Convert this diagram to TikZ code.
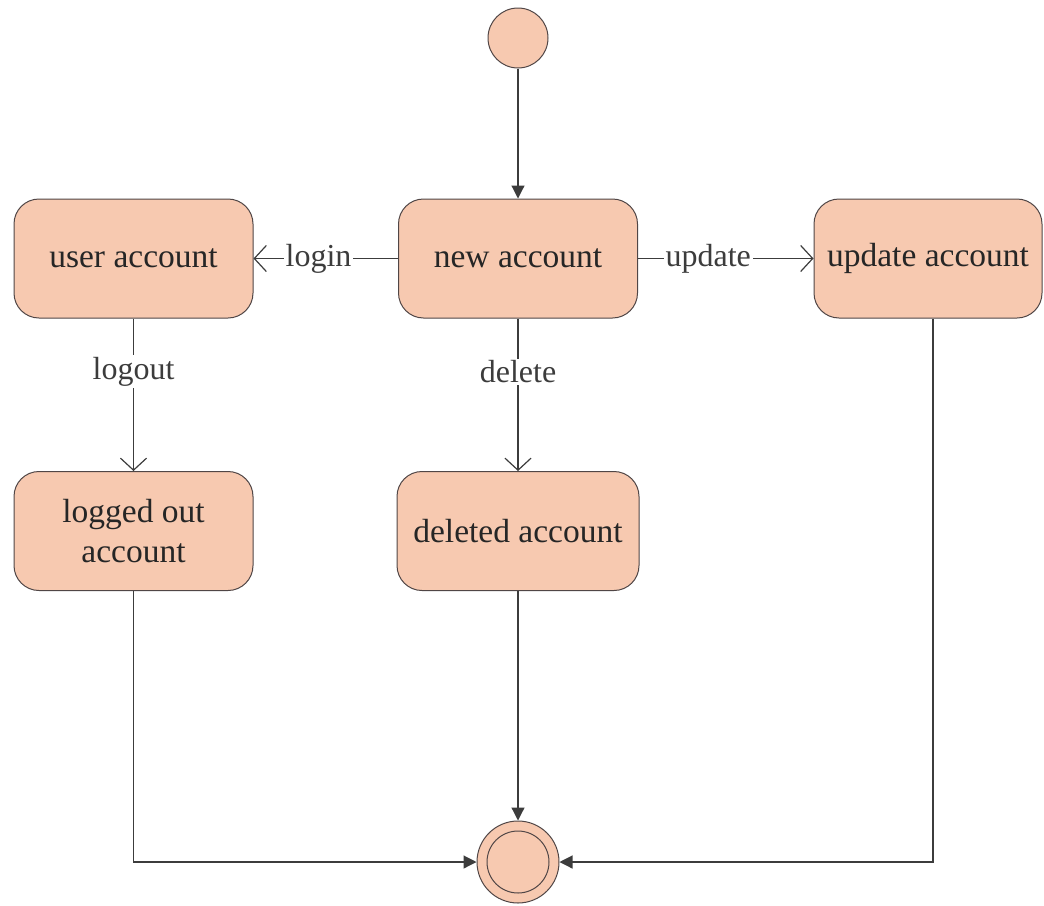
\documentclass[tikz,border=0pt]{standalone}
\usepackage{fontspec}
\setmainfont{Liberation Serif}
\usetikzlibrary{arrows.meta}
\definecolor{statefill}{RGB}{247,201,176}
\definecolor{stateline}{RGB}{80,70,70}
\definecolor{edgeline}{RGB}{60,60,60}
\definecolor{labeltext}{RGB}{60,60,60}
\begin{document}
\begin{tikzpicture}[x=1pt,y=-1pt,
  statebox/.style={draw=stateline,fill=statefill,line width=1pt,rounded corners=25pt,
    minimum width=239pt,minimum height=119pt,inner sep=0pt,align=center,
    font=\fontsize{33.5}{40}\selectfont,text=black!85},
  initstate/.style={circle,draw=stateline,fill=statefill,line width=1pt,minimum size=60pt,inner sep=0pt},
  finalouter/.style={circle,draw=stateline,fill=statefill,line width=1pt,minimum size=82pt,inner sep=0pt},
  finalinner/.style={circle,draw=stateline,line width=1pt,minimum size=62pt,inner sep=0pt},
  flow/.style={draw=edgeline,line width=1.2pt,-{Triangle[length=13pt,width=13pt]}},
  trans/.style={draw=edgeline,line width=1.2pt,-{Straight Barb[length=12pt,width=26pt,line width=1.2pt]}},
  lbl/.style={fill=white,inner sep=2pt,font=\fontsize{32}{38}\selectfont,text=labeltext}
]
\useasboundingbox (0,0) rectangle (1044,905);

% states
\node[initstate] (start) at (518,38) {};
\node[statebox] (user) at (133.5,258.5) {user account};
\node[statebox] (new) at (518,258.5) {new account};
\node[statebox,minimum width=228pt] (upd) at (928,258.5) {update account};
\node[statebox] (logged) at (133.5,531) {logged out\\account};
\node[statebox,minimum width=242pt] (del) at (518,531) {deleted account};
\node[finalouter] (final) at (518,862) {};
\node[finalinner] (finalin) at (518,862) {};

% transitions
\draw[flow] (start) -- (new);
\draw[trans] (new) -- node[lbl,pos=0.55] {login} (user);
\draw[trans] (new) -- node[lbl,pos=0.4] {update} (upd);
\draw[trans] (user) -- node[lbl,pos=0.35] {logout} (logged);
\draw[trans] (new) -- node[lbl,pos=0.35] {delete} (del);
\draw[flow] (del) -- (final);
\draw[flow] (logged.south) |- (final.west);
\draw[flow] (upd.south -| 933,0) |- (final.east);
\end{tikzpicture}
\end{document}
